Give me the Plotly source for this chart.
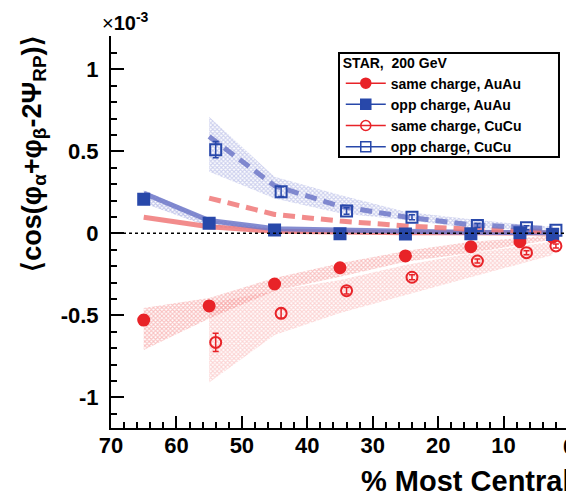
import plotly.graph_objects as go

# Centrality bin centres (% most central)
au_x = [65, 55, 45, 35, 25, 15, 7.5, 2.5]
cu_x = [54, 44, 34, 24, 14, 6.5, 2]          # CuCu markers, shifted for visibility
cu_band_x = [55, 45, 35, 25, 15, 7.5, 2.5]

# Measured correlator, units of 1e-3
au_same = [-0.529, -0.443, -0.309, -0.210, -0.138, -0.082, -0.051, -0.024]
au_same_err = [0.03, 0.02, 0.015, 0.012, 0.01, 0.01, 0.01, 0.01]
au_opp = [0.207, 0.061, 0.020, -0.003, -0.004, -0.003, 0.003, -0.008]
au_opp_err = [0.03, 0.02, 0.012, 0.01, 0.01, 0.01, 0.01, 0.01]
cu_same = [-0.665, -0.488, -0.350, -0.268, -0.169, -0.118, -0.077]
cu_same_err = [0.055, 0.03, 0.02, 0.015, 0.012, 0.012, 0.012]
cu_opp = [0.510, 0.254, 0.136, 0.098, 0.048, 0.034, 0.018]
cu_opp_err = [0.05, 0.03, 0.02, 0.015, 0.012, 0.012, 0.012]

# Systematic bands (upper / lower edge)
au_same_hi = [-0.455, -0.395, -0.272, -0.183, -0.108, -0.052, -0.030, -0.010]
au_same_lo = [-0.712, -0.520, -0.352, -0.265, -0.173, -0.120, -0.070, -0.040]
au_opp_hi = [0.264, 0.085, 0.030, 0.012, 0.008, 0.006, 0.005, 0.004]
au_opp_lo = [0.183, 0.040, 0.010, -0.006, -0.008, -0.006, -0.004, -0.004]
cu_same_hi = [-0.427, -0.350, -0.285, -0.193, -0.122, -0.080, -0.050]
cu_same_lo = [-0.910, -0.620, -0.486, -0.376, -0.266, -0.187, -0.132]
cu_opp_hi = [0.710, 0.345, 0.234, 0.132, 0.085, 0.055, 0.040]
cu_opp_lo = [0.375, 0.213, 0.122, 0.081, 0.032, 0.022, 0.015]

# HIJING three-particle contributions
hij_au_same = [0.098, 0.040, 0.012, 0.006, 0.004, 0.003, 0.002, 0.002]
hij_au_opp = [0.244, 0.078, 0.028, 0.018, 0.012, 0.007, 0.004, 0.003]
hij_cu_same = [0.215, 0.115, 0.075, 0.045, 0.025, 0.016, 0.010]
hij_cu_opp = [0.590, 0.290, 0.165, 0.100, 0.052, 0.038, 0.028]

RED = "rgb(232,35,40)"
BLUE = "rgb(40,72,170)"
LRED = "rgba(240,120,120,0.85)"
LBLUE = "rgba(110,120,200,0.85)"
FONT = "Liberation Sans, Arial, sans-serif"

fig = go.Figure()


def band(x, hi, lo, color):
    fig.add_trace(go.Scatter(
        x=list(x) + list(x)[::-1], y=list(hi) + list(lo)[::-1],
        fill="toself", mode="lines", line=dict(width=0),
        fillcolor="rgba(0,0,0,0)",
        fillpattern=dict(shape="x", size=3, solidity=0.6, fgcolor=color,
                         bgcolor="rgba(255,255,255,0)"),
        showlegend=False, hoverinfo="skip"))


band(au_x, au_same_hi, au_same_lo, "rgba(240,90,90,0.75)")
band(cu_band_x, cu_same_hi, cu_same_lo, "rgba(245,130,130,0.7)")
band(au_x, au_opp_hi, au_opp_lo, "rgba(90,100,200,0.75)")
band(cu_band_x, cu_opp_hi, cu_opp_lo, "rgba(110,120,205,0.7)")

# zero reference
fig.add_shape(type="line", xref="paper", x0=0, x1=1, yref="y", y0=0, y1=0,
              line=dict(color="black", width=1.5, dash="dot"))

# HIJING curves
fig.add_trace(go.Scatter(x=au_x, y=hij_au_same, mode="lines",
                         line=dict(color=LRED, width=5), showlegend=False))
fig.add_trace(go.Scatter(x=au_x, y=hij_au_opp, mode="lines",
                         line=dict(color=LBLUE, width=5), showlegend=False))
fig.add_trace(go.Scatter(x=cu_band_x, y=hij_cu_same, mode="lines",
                         line=dict(color=LRED, width=5, dash="12px,7px"),
                         showlegend=False))
fig.add_trace(go.Scatter(x=cu_band_x, y=hij_cu_opp, mode="lines",
                         line=dict(color=LBLUE, width=5, dash="12px,7px"),
                         showlegend=False))


def points(x, y, err, color, symbol, name):
    fig.add_trace(go.Scatter(
        x=x, y=y, mode="markers",
        error_y=dict(type="data", array=err, color=color, thickness=1.5, width=3),
        marker=dict(symbol=symbol, size=11, color=color,
                    line=dict(color=color, width=2)),
        showlegend=False, name=name))


points(au_x, au_same, au_same_err, RED, "circle", "same charge, AuAu")
points(au_x, au_opp, au_opp_err, BLUE, "square", "opp charge, AuAu")
points(cu_x, cu_same, cu_same_err, RED, "circle-open", "same charge, CuCu")
points(cu_x, cu_opp, cu_opp_err, BLUE, "square-open", "opp charge, CuCu")

# legend entries
for name, color, symbol in [("same charge, AuAu", RED, "circle"),
                            ("opp charge, AuAu", BLUE, "square"),
                            ("same charge, CuCu", RED, "circle-open"),
                            ("opp charge, CuCu", BLUE, "square-open")]:
    fig.add_trace(go.Scatter(
        x=[None], y=[None], mode="lines+markers", name="<b>%s</b>" % name,
        line=dict(color=color, width=1.5),
        marker=dict(symbol=symbol, size=10, color=color,
                    line=dict(color=color, width=1.5))))

XR = [70, 0.46]
YR = [-1.187, 1.203]
tickfont = dict(family=FONT, size=22, color="black")

fig.update_layout(
    width=566, height=495,
    margin=dict(l=111, r=0, t=36, b=67),
    paper_bgcolor="white", plot_bgcolor="white",
    font=dict(family=FONT, color="black"),
    xaxis=dict(range=XR, tickmode="array", tickvals=[70, 60, 50, 40, 30, 20, 10],
               ticktext=["<b>%d</b>" % v for v in [70, 60, 50, 40, 30, 20, 10]],
               ticks="inside", ticklen=12, tickwidth=1.5, tickcolor="black",
               minor=dict(dtick=2, ticks="inside", ticklen=6, tickwidth=1.5,
                          tickcolor="black", showgrid=False),
               showline=True, linewidth=2, linecolor="black", showgrid=False,
               zeroline=False, tickfont=tickfont, ticklabelstandoff=-3),
    xaxis2=dict(range=XR, overlaying="x", side="top", anchor="y",
                tickmode="linear", tick0=0, dtick=10,
                ticks="inside", ticklen=12, tickwidth=1.5, tickcolor="black",
                minor=dict(dtick=2, ticks="inside", ticklen=6, tickwidth=1.5,
                           tickcolor="black", showgrid=False),
                showticklabels=False, showline=True, linewidth=2,
                linecolor="black", showgrid=False, zeroline=False),
    yaxis=dict(range=YR, tickmode="array", tickvals=[-1, -0.5, 0, 0.5, 1],
               ticktext=["<b>-1</b>", "<b>-0.5</b>", "<b>0</b>", "<b>0.5</b>", "<b>1</b>"],
               ticks="inside", ticklen=13, tickwidth=1.5, tickcolor="black",
               minor=dict(dtick=0.1, ticks="inside", ticklen=6, tickwidth=1.5,
                          tickcolor="black", showgrid=False),
               showline=True, linewidth=2, linecolor="black", showgrid=False,
               zeroline=False, tickfont=tickfont, ticklabelstandoff=6),
    yaxis2=dict(range=YR, overlaying="y", side="right", anchor="x",
                tickmode="linear", tick0=0, dtick=0.5,
                ticks="inside", ticklen=13, tickwidth=1.5, tickcolor="black",
                minor=dict(dtick=0.1, ticks="inside", ticklen=6, tickwidth=1.5,
                           tickcolor="black", showgrid=False),
                showticklabels=False, showline=False, showgrid=False,
                zeroline=False),
    legend=dict(x=0.505, y=0.966, xanchor="left", yanchor="top",
                bgcolor="rgba(0,0,0,0)", borderwidth=0,
                font=dict(family=FONT, size=14, color="black"),
                title=dict(text="<b>STAR,  200 GeV</b>",
                           font=dict(family=FONT, size=14, color="black")),
                itemwidth=40, tracegroupgap=0),
)

# legend frame
fig.add_shape(type="rect", xref="paper", yref="paper",
              x0=0.5011, x1=0.9846, y0=0.6913, y1=0.9566,
              line=dict(color="black", width=2), fillcolor="white", layer="below")

# axis titles and exponent
fig.add_annotation(xref="paper", yref="paper", x=1.0135, y=-0.09,
                   xanchor="right", yanchor="top", showarrow=False,
                   text="<b>% Most Central</b>",
                   font=dict(family=FONT, size=29, color="black"))
fig.add_annotation(xref="paper", yref="paper", x=1.0066, y=-0.01,
                   xanchor="center", yanchor="top", showarrow=False,
                   text="<b>0</b>", font=tickfont)
fig.add_annotation(xref="paper", yref="paper", x=-0.17, y=1.005,
                   xanchor="center", yanchor="top", showarrow=False, textangle=-90,
                   text="<b>⟨cos(φ<sub>α</sub>+φ<sub>β</sub>-2Ψ<sub>RP</sub>)⟩</b>",
                   font=dict(family=FONT, size=27, color="black"))
fig.add_annotation(xref="paper", yref="paper", x=-0.024, y=1.0,
                   xanchor="left", yanchor="bottom", showarrow=False,
                   text="×<b>10</b><sup><b>-3</b></sup>",
                   font=dict(family=FONT, size=20, color="black"))

fig.write_html("out.html")
